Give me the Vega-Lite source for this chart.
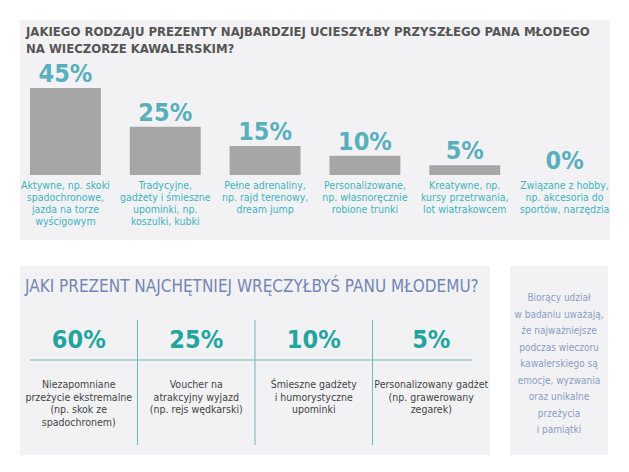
{
  "$schema": "https://vega.github.io/schema/vega-lite/v6.json",
  "background": "#ffffff",
  "padding": {"left": 20, "top": 20, "right": 0, "bottom": 0},
  "config": {
    "view": {"fill": "#f2f2f4", "stroke": null},
    "font": "DejaVu Sans Condensed"
  },
  "spacing": 26,
  "vconcat": [
    {
      "width": 590,
      "height": 220,
      "title": {
        "text": ["JAKIEGO RODZAJU PREZENTY NAJBARDZIEJ UCIESZYŁBY PRZYSZŁEGO PANA MŁODEGO", "NA WIECZORZE KAWALERSKIM?"],
        "anchor": "start",
        "orient": "top",
        "offset": -36,
        "dx": 6,
        "fontSize": 13,
        "fontWeight": "bold",
        "lineHeight": 17,
        "color": "#555555",
        "font": "DejaVu Sans Condensed"
      },
      "data": {
        "values": [
          {"cat": "a", "value": 45, "pct": "45%", "label": ["Aktywne, np. skoki", "spadochronowe,", "jazda na torze", "wyścigowym"]},
          {"cat": "b", "value": 25, "pct": "25%", "label": ["Tradycyjne,", "gadżety i śmieszne", "upominki, np.", "koszulki, kubki"]},
          {"cat": "c", "value": 15, "pct": "15%", "label": ["Pełne adrenaliny,", "np. rajd terenowy,", "dream jump"]},
          {"cat": "d", "value": 10, "pct": "10%", "label": ["Personalizowane,", "np. własnoręcznie", "robione trunki"]},
          {"cat": "e", "value": 5, "pct": "5%", "label": ["Kreatywne, np.", "kursy przetrwania,", "lot wiatrakowcem"]},
          {"cat": "f", "value": 0, "pct": "0%", "label": ["Związane z hobby,", "np. akcesoria do", "sportów, narzędzia"]}
        ]
      },
      "encoding": {
        "x": {"field": "cat", "type": "nominal", "axis": null, "sort": null,
              "scale": {"paddingInner": 0.29, "paddingOuter": 0.1}}
      },
      "layer": [
        {
          "mark": {"type": "bar", "color": "#a6a6a6"},
          "encoding": {
            "y": {"field": "value", "type": "quantitative", "axis": null, "scale": {"domain": [-33.7, 80.3], "nice": false}},
            "y2": {"datum": 0}
          }
        },
        {
          "mark": {"type": "text", "baseline": "bottom", "dy": -1, "fontSize": 25, "fontWeight": "bold", "color": "#5aafbd"},
          "encoding": {
            "y": {"field": "value", "type": "quantitative"},
            "text": {"field": "pct"}
          }
        },
        {
          "mark": {"type": "text", "baseline": "top", "dy": 6, "fontSize": 10.5, "lineHeight": 12, "color": "#3fb2c2"},
          "encoding": {
            "y": {"datum": 0},
            "text": {"field": "label"}
          }
        }
      ]
    },
    {
      "spacing": 20,
      "hconcat": [
        {
          "width": 470,
          "height": 189,
          "title": {
            "text": "JAKI PREZENT NAJCHĘTNIEJ WRĘCZYŁBYŚ PANU MŁODEMU?",
            "anchor": "start",
            "orient": "top",
            "offset": -30,
            "dx": 5,
            "fontSize": 17,
            "fontWeight": "normal",
            "color": "#7386b3",
            "font": "DejaVu Sans Condensed"
          },
          "data": {
            "values": [
              {"col": "1", "pct": "60%", "label": ["Niezapomniane", "przeżycie ekstremalne", "(np. skok ze", "spadochronem)"]},
              {"col": "2", "pct": "25%", "label": ["Voucher na", "atrakcyjny wyjazd", "(np. rejs wędkarski)"]},
              {"col": "3", "pct": "10%", "label": ["Śmieszne gadżety", "i humorystyczne", "upominki"]},
              {"col": "4", "pct": "5%", "label": ["Personalizowany gadżet", "(np. grawerowany", "zegarek)"]}
            ]
          },
          "encoding": {
            "x": {"field": "col", "type": "nominal", "axis": null, "sort": ["1", "2", "3", "4"], "scale": {"domain": ["1", "2", "3", "4"], "paddingInner": 0, "paddingOuter": 0}}
          },
          "layer": [
            {
              "transform": [{"filter": "datum.col != '1'"}],
              "mark": {"type": "rule", "color": "#6cb6c4", "strokeWidth": 1},
              "encoding": {
                "x": {"field": "col", "type": "nominal", "bandPosition": 0},
                "y": {"datum": 54, "type": "quantitative", "scale": {"domain": [0, 189], "reverse": true, "nice": false}, "axis": null},
                "y2": {"datum": 179}
              }
            },
            {
              "transform": [{"filter": "datum.col == '1'"}],
              "mark": {"type": "rule", "color": "#6cb6c4", "strokeWidth": 1},
              "encoding": {
                "x": {"value": 10},
                "x2": {"value": 452},
                "y": {"datum": 94, "type": "quantitative"}
              }
            },
            {
              "mark": {"type": "text", "fontSize": 25, "fontWeight": "bold", "color": "#22a59e", "baseline": "middle"},
              "encoding": {
                "y": {"datum": 74, "type": "quantitative"},
                "text": {"field": "pct"}
              }
            },
            {
              "mark": {"type": "text", "fontSize": 10.5, "lineHeight": 12.5, "color": "#444444", "baseline": "top"},
              "encoding": {
                "y": {"datum": 114, "type": "quantitative"},
                "text": {"field": "label"}
              }
            }
          ]
        },
        {
          "width": 98,
          "height": 189,
          "data": {"values": [{"note": ["Biorący udział", "w badaniu uważają,", "że najważniejsze", "podczas wieczoru", "kawalerskiego są", "emocje, wyzwania", "oraz unikalne", "przeżycia", "i pamiątki"]}]},
          "mark": {"type": "text", "fontSize": 10, "lineHeight": 16.5, "color": "#8a9cc6", "baseline": "top"},
          "encoding": {
            "y": {"datum": 27, "type": "quantitative", "scale": {"domain": [0, 189], "reverse": true, "nice": false}, "axis": null},
            "text": {"field": "note"}
          }
        }
      ]
    }
  ]
}
